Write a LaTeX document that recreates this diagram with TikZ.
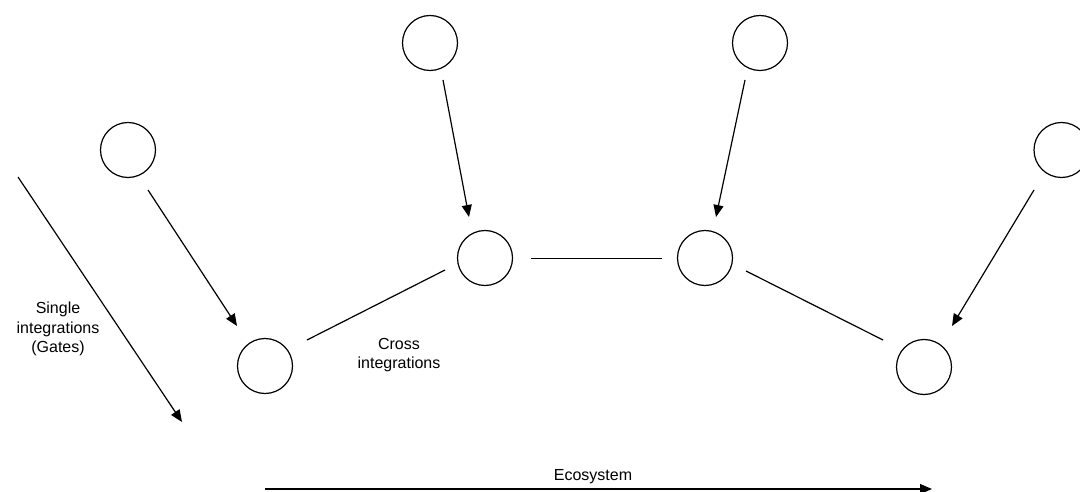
\documentclass[tikz,border=0pt]{standalone}
\usepackage{fontspec}
\setmainfont{Liberation Sans}
\usetikzlibrary{arrows.meta}
\begin{document}
\begin{tikzpicture}[x=1pt,y=-1pt,
  circ/.style={draw,circle,minimum size=55pt,inner sep=0pt,line width=1.2pt},
  conn/.style={line width=1.2pt},
  arr/.style={line width=1.2pt,-{Triangle[length=12pt,width=10pt]}},
  lbl/.style={font=\fontsize{16}{19.5}\selectfont,align=center}]
\useasboundingbox (0,0) rectangle (1080,492);
\node[circ] (c1) at (128,150) {};
\node[circ] (t1) at (430,43) {};
\node[circ] (t2) at (760,43) {};
\node[circ] (c4) at (1061.5,150) {};
\node[circ] (m1) at (485,258) {};
\node[circ] (m2) at (705,258) {};
\node[circ] (l1) at (265,366) {};
\node[circ] (l2) at (924,367) {};
% arrow end points
\coordinate (a1s) at (148,190); \coordinate (a1e) at (237,326);
\coordinate (a2s) at (443,80);  \coordinate (a2e) at (469,217);
\coordinate (a3s) at (745,80);  \coordinate (a3e) at (716,217);
\coordinate (a4s) at (1034,190); \coordinate (a4e) at (952,326);
\coordinate (g1) at (18,177); \coordinate (g2) at (182,422);
\coordinate (e1) at (265,489); \coordinate (e2) at (932,489);
\coordinate (x1s) at (307,340); \coordinate (x1e) at (445,270);
\coordinate (x2s) at (531,258.4); \coordinate (x2e) at (662,258.4);
\coordinate (x3s) at (746,271); \coordinate (x3e) at (883,340);
\draw[arr] (a1s) -- (a1e);
\draw[arr] (a2s) -- (a2e);
\draw[arr] (a3s) -- (a3e);
\draw[arr] (a4s) -- (a4e);
\draw[arr] (g1) -- (g2);
\draw[arr] (e1) -- (e2);
\draw[conn] (x1s) -- (x1e);
\draw[conn] (x2s) -- (x2e);
\draw[conn] (x3s) -- (x3e);
\node[lbl] (single) at (58,329) {Single\\integrations\\(Gates)};
\node[lbl] (cross) at (399,355) {Cross\\integrations};
\node[lbl] (eco) at (593,477) {Ecosystem};
\end{tikzpicture}
\end{document}
